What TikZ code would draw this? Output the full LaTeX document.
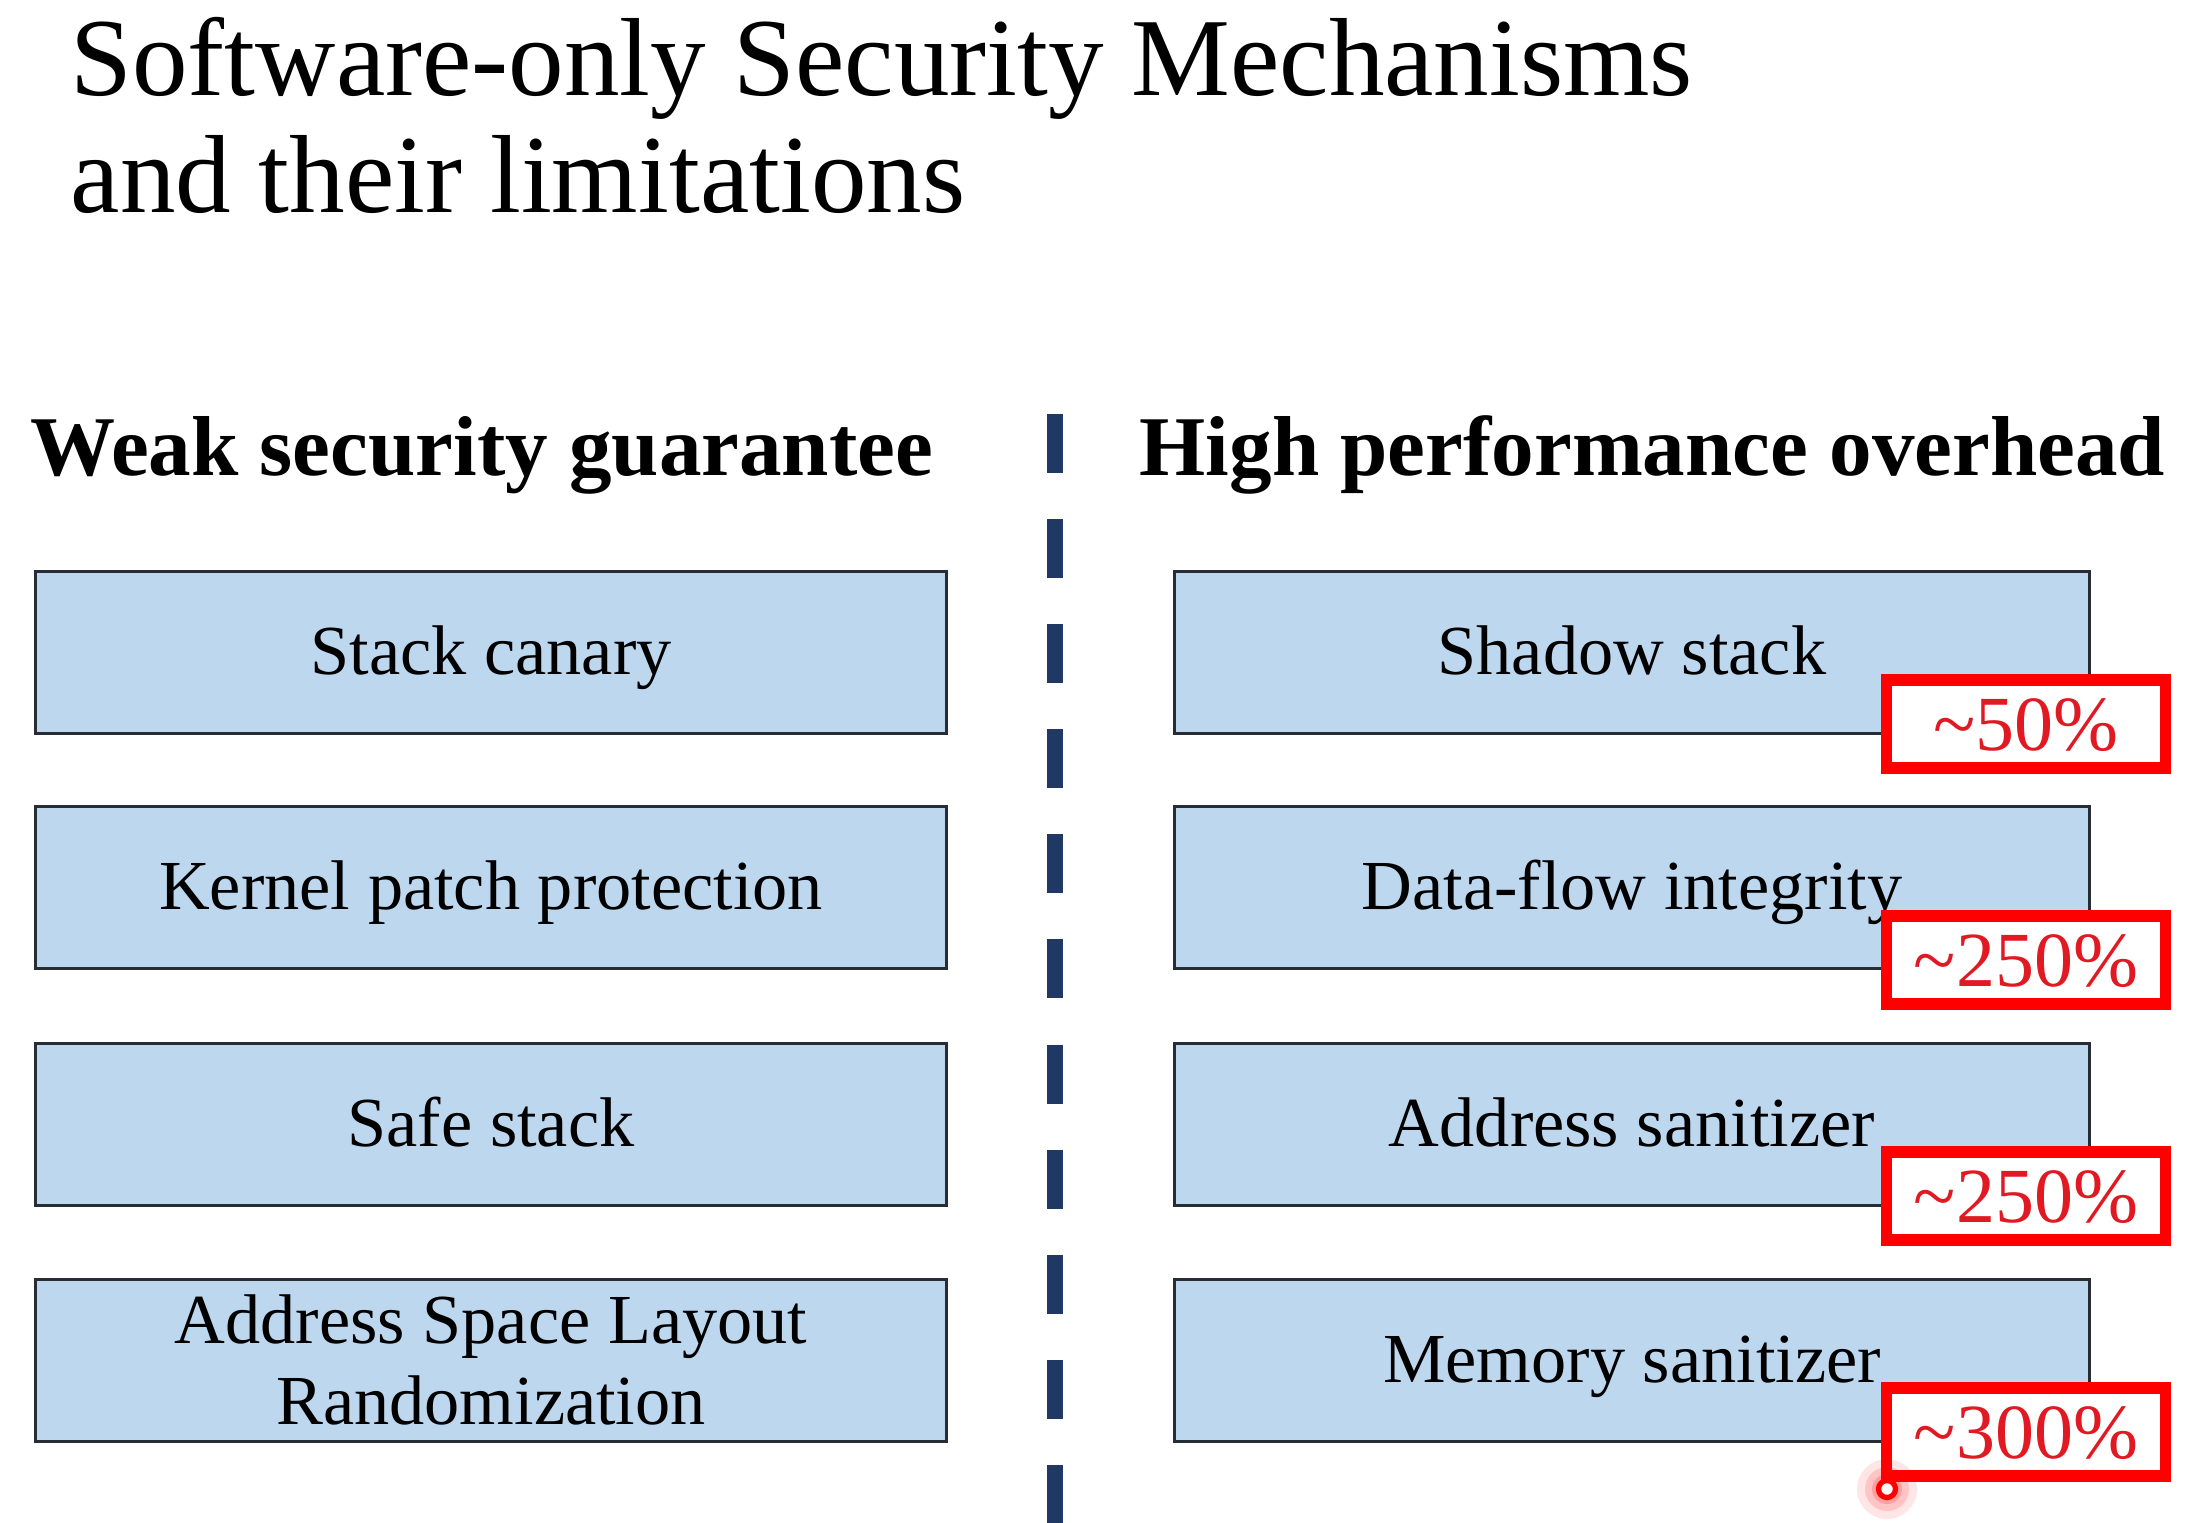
\documentclass[tikz,border=0pt]{standalone}
\usepackage{fontspec}
\setmainfont{Liberation Serif}
\begin{document}
\definecolor{mechfill}{RGB}{189,215,238}
\definecolor{mechline}{RGB}{40,44,52}
\definecolor{divnavy}{RGB}{31,56,100}
\definecolor{costred}{RGB}{255,0,0}
\definecolor{costtext}{RGB}{225,25,35}
\begin{tikzpicture}[x=0.1mm,y=-0.1mm,
  titletext/.style={anchor=base west,inner sep=0pt,font=\fontsize{31.6}{33}\selectfont},
  headtext/.style={anchor=base west,inner sep=0pt,font=\fontsize{24.2}{27}\selectfont\bfseries},
  mechbox/.style={draw=mechline,line width=0.85pt,fill=mechfill,inner sep=0pt,
    minimum height=16.2mm,font=\fontsize{20}{22.8}\selectfont,align=center},
  leftbox/.style={mechbox,minimum width=91.1mm},
  rightbox/.style={mechbox,minimum width=91.5mm},
  oneline/.style={text height=17.5pt,text depth=4.5pt},
  costbox/.style={draw=costred,line width=3.4pt,fill=white,inner sep=0pt,
    minimum width=27.9mm,minimum height=8.8mm,text=costtext,
    font=\fontsize{22.2}{24}\selectfont,text height=15pt,text depth=0pt},
  divider/.style={draw=divnavy,line width=4.55pt,line cap=butt,
    dash pattern=on 16.8pt off 13.1pt}
]
\useasboundingbox (0,0) rectangle (2200,1522);
\clip (0,0) rectangle (2200,1522);
\fill[white] (0,0) rectangle (2200,1522);

% title
\node[titletext] (title1) at (70,95) {Software-only Security Mechanisms};
\node[titletext] (title2) at (70,212) {and their limitations};

% column headings
\node[headtext] (headL) at (30,475) {Weak security guarantee};
\node[headtext] (headR) at (1139,475) {High performance overhead};

% dashed separator between the two columns
\coordinate (divtop) at (1055,414);
\coordinate (divbot) at (1055,1560);
\draw[divider] (divtop) -- (divbot);

% left column: mechanisms with weak guarantees
\node[leftbox,oneline] (canary) at (491,652) {Stack canary};
\node[leftbox,oneline] (kpp)    at (491,887) {Kernel patch protection};
\node[leftbox,oneline] (safe)   at (491,1124) {Safe stack};
\node[leftbox] (aslr)   at (491,1360) {Address Space Layout\\Randomization};

% right column: mechanisms with high overhead
\node[rightbox,oneline] (shadow) at (1632,652) {Shadow stack};
\node[rightbox,oneline] (dfi)    at (1632,887) {Data-flow integrity};
\node[rightbox,oneline] (asan)   at (1632,1124) {Address sanitizer};
\node[rightbox,oneline] (msan)   at (1632,1360) {Memory sanitizer};

% overhead figures
\node[costbox] (costshadow) at (2026,724) {\textasciitilde 50\%};
\node[costbox] (costdfi)    at (2026,960) {\textasciitilde 250\%};
\node[costbox] (costasan)   at (2026,1196) {\textasciitilde 250\%};
\node[costbox] (costmsan)   at (2026,1432) {\textasciitilde 300\%};

% pointer mark
\coordinate (ptr) at (1887,1489);
\fill[costred,opacity=0.10] (ptr) circle (30);
\fill[costred,opacity=0.14] (ptr) circle (22);
\fill[costred,opacity=0.18] (ptr) circle (15);
\draw[costred,line width=1.5pt,fill=white] (ptr) circle (8.5);
\end{tikzpicture}
\end{document}
